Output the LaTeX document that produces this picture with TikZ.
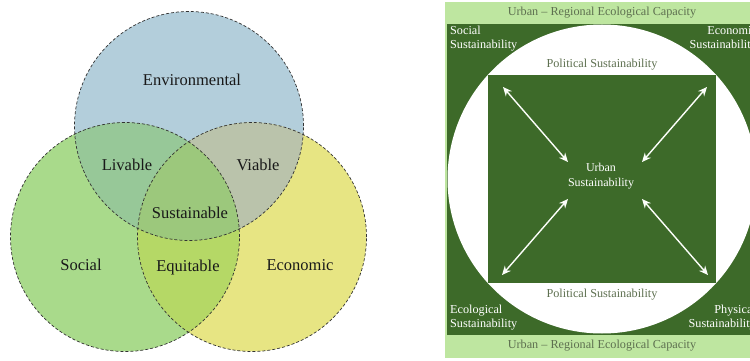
\documentclass[tikz,border=0pt]{standalone}
\usepackage{fontspec}
\setmainfont{Liberation Serif}
\usetikzlibrary{arrows.meta}
\definecolor{envblue}{HTML}{B3CEDB}
\definecolor{socgreen}{HTML}{A9DA8B}
\definecolor{ecoyellow}{HTML}{E7E583}
\definecolor{livgreen}{HTML}{97C898}
\definecolor{viagray}{HTML}{BAC3AB}
\definecolor{equgreen}{HTML}{B5D866}
\definecolor{susgreen}{HTML}{9CC87C}
\definecolor{capgreen}{HTML}{BEE6A0}
\definecolor{deepgreen}{HTML}{3D6A29}
\definecolor{capgray}{HTML}{5E7050}
\begin{document}
\begin{tikzpicture}[x=1pt,y=-1pt,
  ring/.style={draw=black!80,densely dashed,line width=0.7pt},
  vlabel/.style={text=black!90,font=\fontsize{16.5}{19}\selectfont},
  slabel/.style={text=white,font=\fontsize{12.2}{14}\selectfont,inner sep=0pt},
  glabel/.style={text=capgray,font=\fontsize{12.2}{14}\selectfont,inner sep=0pt},
  link/.style={white!95!capgreen,line width=1.4pt,{Stealth[length=9pt,width=8pt]}-{Stealth[length=9pt,width=8pt]}}]
\useasboundingbox (0,0) rectangle (750,361);
\clip (0,0) rectangle (750,361);

%Venn diagram, left
\fill[envblue] (189,126) circle (114.5pt);%Environmental
\fill[socgreen] (125,237) circle (114.5pt);%Social
\fill[ecoyellow] (252,237) circle (114.5pt);%Economic
\begin{scope}\clip (189,126) circle (114.5pt);
  \fill[livgreen] (125,237) circle (114.5pt);
  \fill[viagray] (252,237) circle (114.5pt);
\end{scope}
\begin{scope}\clip (125,237) circle (114.5pt);
  \fill[equgreen] (252,237) circle (114.5pt);
  \clip (252,237) circle (114.5pt);
  \fill[susgreen] (189,126) circle (114.5pt);
\end{scope}
\draw[ring] (189,126) circle (114.5pt);
\draw[ring] (125,237) circle (114.5pt);
\draw[ring] (252,237) circle (114.5pt);

\node[vlabel] (env) at (192,80) {Environmental};
\node[vlabel] (liv) at (127,165) {Livable};
\node[vlabel] (via) at (258,165) {Viable};
\node[vlabel] (sus) at (190,213) {Sustainable};
\node[vlabel] (soc) at (81,265) {Social};
\node[vlabel] (equ) at (188,268) {Equitable};
\node[vlabel] (eco) at (300,265) {Economic};

%Urban sustainability frame, right
\fill[capgreen] (445,2) rectangle (750,358);
\fill[deepgreen] (447,24) rectangle (750,335);
\begin{scope}\clip (447,24) rectangle (750,335);
  \fill[white] (602,179) circle (154.5pt);
\end{scope}
\fill[deepgreen] (488,75) rectangle (716,283);%inner square

\node[glabel] (captop) at (602,13) {Urban -- Regional Ecological Capacity};
\node[glabel] (capbot) at (602,346) {Urban -- Regional Ecological Capacity};
\node[glabel] (poltop) at (602,65) {Political Sustainability};
\node[glabel] (polbot) at (602,295) {Political Sustainability};

\node[slabel,align=left,anchor=west] (socs) at (450,39) {Social\\Sustainability};
\node[slabel,align=right,anchor=east] (ecos) at (757,39) {Economic\\Sustainability};
\node[slabel,align=left,anchor=west] (ecls) at (450,318) {Ecological\\Sustainability};
\node[slabel,align=right,anchor=east] (phys) at (756,318) {Physical\\Sustainability};
\node[slabel,align=center,font=\fontsize{12}{15.5}\selectfont] (urb) at (601,176) {Urban\\Sustainability};

\coordinate (tl) at (503,87);
\coordinate (tr) at (707,87);
\coordinate (bl) at (502,275);
\coordinate (br) at (708,275);
\coordinate (ctl) at (568,162);
\coordinate (ctr) at (642,162);
\coordinate (cbl) at (568,199);
\coordinate (cbr) at (642,199);
\draw[link] (tl) -- (ctl);
\draw[link] (tr) -- (ctr);
\draw[link] (bl) -- (cbl);
\draw[link] (br) -- (cbr);
\end{tikzpicture}
\end{document}
